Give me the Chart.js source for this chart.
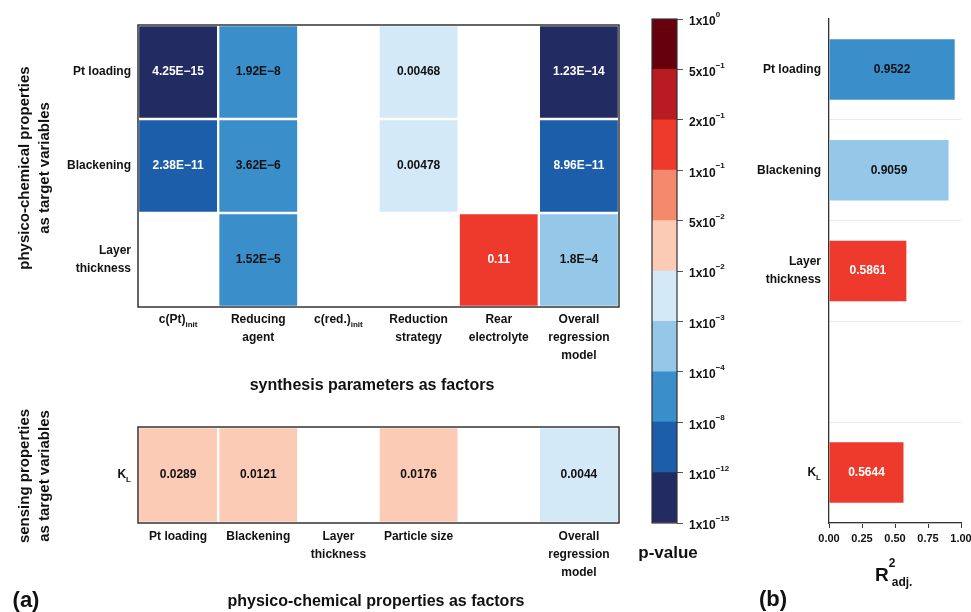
<!DOCTYPE html>
<html>
<head>
<meta charset="utf-8">
<script src="https://cdn.jsdelivr.net/npm/chart.js@4"></script>
<style>
  html, body { margin: 0; padding: 0; background: #fff; }
  #wrap { position: relative; width: 971px; height: 612px; overflow: hidden; background: #fff; }
  canvas { position: absolute; }
</style>
</head>
<body>
<div id="wrap">
  <canvas id="heatTop" width="640" height="395" style="left:0;top:0"></canvas>
  <canvas id="heatBottom" width="640" height="217" style="left:0;top:395px"></canvas>
  <canvas id="scaleBar" width="120" height="612" style="left:630px;top:0"></canvas>
  <canvas id="r2" width="231" height="612" style="left:740px;top:0"></canvas>
</div>
<script>
// Synthesis parameters (factors) vs. physico-chemical properties (targets): p-values
const synthFactors = ['c(Pt)_{init}', ['Reducing', 'agent'], 'c(red.)_{init}', ['Reduction', 'strategy'], ['Rear', 'electrolyte'], ['Overall', 'regression', 'model']];
const physTargets = ['Pt loading', 'Blackening', ['Layer', 'thickness']];
const pPtLoading = [4.25e-15, 1.92e-8, null, 0.00468, null, 1.23e-14];
const pBlackening = [2.38e-11, 3.62e-6, null, 0.00478, null, 8.96e-11];
const pLayerThickness = [null, 1.52e-5, null, null, 0.11, 1.8e-4];

// Physico-chemical properties (factors) vs. sensing property K_L: p-values
const physFactors = ['Pt loading', 'Blackening', ['Layer', 'thickness'], 'Particle size', '', ['Overall', 'regression', 'model']];
const sensTargets = ['K_{L}'];
const pKL = [0.0289, 0.0121, null, 0.0176, null, 0.0044];

// p-value colour classes
const pBreaks = [1e-15, 1e-12, 1e-8, 1e-4, 1e-3, 1e-2, 5e-2, 1e-1, 2e-1, 5e-1, 1];
const pBreakLabels = ['1x10^{−15}', '1x10^{−12}', '1x10^{−8}', '1x10^{−4}', '1x10^{−3}', '1x10^{−2}', '5x10^{−2}', '1x10^{−1}', '2x10^{−1}', '5x10^{−1}', '1x10^{0}'];
const pColors = ['#232c62', '#1c5ea9', '#3a8fcb', '#95c8e8', '#d4e9f7', '#fbcbb6', '#f4896c', '#ee3a2c', '#b81b22', '#67000d'];

// Adjusted R² of the regression models
const r2Targets = ['Pt loading', 'Blackening', ['Layer', 'thickness'], '', 'K_{L}'];
const r2Values = [0.9522, 0.9059, 0.5861, null, 0.5644];
const r2Colors = ['#3a8fcb', '#95c8e8', '#ee3a2c', '#ee3a2c', '#ee3a2c'];

const FAM = "'Liberation Sans', Arial, Helvetica, sans-serif";
Chart.defaults.font.family = FAM;
Chart.defaults.font.weight = 'bold';
Chart.defaults.font.size = 12;
Chart.defaults.color = '#111';
Chart.defaults.animation = false;
Chart.defaults.responsive = false;
Chart.defaults.events = [];
Chart.defaults.plugins.legend.display = false;
Chart.defaults.plugins.tooltip.enabled = false;

function pBin(p) {
  for (let i = 0; i < pColors.length; i++) if (p < pBreaks[i + 1]) return i;
  return pColors.length - 1;
}
function fmtP(p) {
  const s = p < 1e-3 ? p.toExponential().replace('e', 'E') : String(p);
  return s.replace(/-/g, '−');
}
const isRich = l => typeof l === 'string' && /[_^]\{/.test(l);
function parseRich(s) {
  const parts = [], re = /([_^])\{([^}]*)\}/g;
  let last = 0, m;
  while ((m = re.exec(s))) {
    if (m.index > last) parts.push({ t: s.slice(last, m.index) });
    parts.push({ t: m[2], sub: m[1] === '_', sup: m[1] === '^' });
    last = re.lastIndex;
  }
  if (last < s.length) parts.push({ t: s.slice(last) });
  return parts;
}
function drawRich(ctx, s, x, y, align, size) {
  const parts = parseRich(s);
  const small = Math.round(size * 0.68);
  const hasSup = parts.some(p => p.sup);
  const fontOf = p => `bold ${p.sub || p.sup ? small : size}px ${FAM}`;
  const widths = parts.map(p => { ctx.font = fontOf(p); return ctx.measureText(p.t).width; });
  const total = widths.reduce((a, b) => a + b, 0);
  let cx = align === 'right' ? x - total : align === 'center' ? x - total / 2 : x;
  const by = y + (hasSup ? 3 : 0);
  ctx.save();
  ctx.fillStyle = '#111';
  ctx.textAlign = 'left';
  ctx.textBaseline = 'middle';
  parts.forEach((p, i) => {
    ctx.font = fontOf(p);
    const dy = p.sub ? size * 0.4 : p.sup ? -size * 0.58 : 0;
    ctx.fillText(p.t, cx, by + dy);
    cx += widths[i];
  });
  ctx.restore();
}

// Tick labels with sub/superscripts, placed on the library's own scale positions
function richTicks(map) {
  return {
    id: 'richTicks',
    afterDraw(chart) {
      const ctx = chart.ctx;
      Object.keys(map).forEach(id => {
        const scale = chart.scales[id];
        const labels = map[id];
        const o = scale.options;
        const tl = o.grid.drawTicks ? o.grid.tickLength : 0;
        const pad = o.ticks.padding;
        const size = o.ticks.font.size || 12;
        const lh = size * (o.ticks.font.lineHeight || 1.2);
        scale.ticks.forEach(t => {
          const l = labels[t.value];
          if (!isRich(l)) return;
          const p = scale.getPixelForValue(t.value);
          if (scale.isHorizontal()) {
            drawRich(ctx, l, p, scale.top + tl + pad + lh / 2, 'center', size);
          } else if (o.position === 'right') {
            drawRich(ctx, l, scale.left + tl + pad, p, 'left', size);
          } else {
            drawRich(ctx, l, scale.right - tl - pad, p, 'right', size);
          }
        });
      });
    }
  };
}

function frame(width) {
  return {
    id: 'frame',
    afterDatasetsDraw(chart) {
      const a = chart.chartArea, ctx = chart.ctx;
      ctx.save();
      ctx.strokeStyle = '#333';
      ctx.lineWidth = width;
      ctx.strokeRect(a.left, a.top, a.right - a.left, a.bottom - a.top);
      ctx.restore();
    }
  };
}

function freeText(items) {
  return {
    id: 'freeText',
    afterDraw(chart) {
      const ctx = chart.ctx;
      items.forEach(it => {
        ctx.save();
        ctx.translate(it.x, it.y);
        if (it.rotate) ctx.rotate(it.rotate * Math.PI / 180);
        ctx.fillStyle = '#111';
        ctx.textBaseline = 'middle';
        if (it.stack) {
          ctx.textAlign = 'left';
          ctx.font = `bold ${it.size}px ${FAM}`;
          ctx.fillText(it.base, 0, 0);
          const w = ctx.measureText(it.base).width;
          ctx.font = `bold ${it.small}px ${FAM}`;
          ctx.fillText(it.sup, w, -12);
          ctx.fillText(it.sub, w + 3, 7);
        } else {
          ctx.font = `${it.weight || 'bold'} ${it.size}px ${FAM}`;
          ctx.textAlign = it.align || 'center';
          const lines = Array.isArray(it.text) ? it.text : [it.text];
          const gap = it.gap || it.size * 1.3;
          lines.forEach((l, k) => ctx.fillText(l, 0, (k - (lines.length - 1) / 2) * gap));
        }
        ctx.restore();
      });
    }
  };
}

// Writes each p-value into its cell
const cellText = {
  id: 'cellText',
  afterDatasetsDraw(chart) {
    const ctx = chart.ctx;
    ctx.save();
    ctx.font = `bold 12px ${FAM}`;
    ctx.textAlign = 'center';
    ctx.textBaseline = 'middle';
    chart.data.datasets.forEach((ds, di) => {
      const meta = chart.getDatasetMeta(di);
      ds.pValues.forEach((p, j) => {
        if (p == null) return;
        const c = meta.data[j].getCenterPoint();
        const b = pBin(p);
        ctx.fillStyle = (b <= 1 || b >= 7) ? '#fff' : '#111';
        ctx.fillText(fmtP(p), c.x, c.y);
      });
    });
    ctx.restore();
  }
};

const tickFont = { size: 12, weight: 'bold', lineHeight: 1.5 };

function heatmap(canvasId, factors, targets, rows, cfg) {
  return new Chart(document.getElementById(canvasId), {
    type: 'bar',
    data: {
      labels: factors,
      datasets: rows.map((vals, r) => ({
        data: vals.map(v => v == null ? null : [r - 0.5, r + 0.5]),
        pValues: vals,
        backgroundColor: vals.map(v => v == null ? 'rgba(0,0,0,0)' : pColors[pBin(v)]),
        borderColor: '#fff',
        borderWidth: 1.5,
        borderSkipped: false,
        grouped: false,
        barPercentage: 1,
        categoryPercentage: 1
      }))
    },
    options: {
      layout: { padding: { left: 0, right: cfg.right, top: cfg.top, bottom: 0 } },
      scales: {
        x: {
          grid: { display: false, drawTicks: false },
          border: { display: false },
          ticks: {
            font: tickFont, padding: cfg.xPad, maxRotation: 0, minRotation: 0, autoSkip: false,
            callback: (v, i) => isRich(factors[i]) ? '' : factors[i]
          },
          afterFit: s => { s.height = cfg.xHeight; }
        },
        y: {
          min: -0.5, max: targets.length - 0.5, reverse: true,
          grid: { display: false, drawTicks: false },
          border: { display: false },
          afterBuildTicks: s => { s.ticks = targets.map((_, i) => ({ value: i })); },
          ticks: { font: tickFont, padding: 7, callback: v => isRich(targets[v]) ? '' : targets[v] },
          afterFit: s => { s.width = 138; }
        }
      }
    },
    plugins: [frame(1.5), cellText, richTicks({ x: factors, y: targets }), freeText(cfg.texts)]
  });
}

heatmap('heatTop', synthFactors, physTargets, [pPtLoading, pBlackening, pLayerThickness], {
  top: 19, right: 21, xHeight: 88, xPad: 4,
  texts: [
    { text: ['physico-chemical properties', 'as target variables'], x: 35, y: 168, size: 15, rotate: -90, gap: 20 },
    { text: 'synthesis parameters as factors', x: 372, y: 386, size: 16 }
  ]
});

heatmap('heatBottom', physFactors, sensTargets, [pKL], {
  top: 32, right: 21, xHeight: 89, xPad: 5,
  texts: [
    { text: ['sensing properties', 'as target variables'], x: 35, y: 81, size: 15, rotate: -90, gap: 20 },
    { text: 'physico-chemical properties as factors', x: 376, y: 207, size: 16 },
    { text: '(a)', x: 26, y: 206, size: 22 }
  ]
});

// Colour key for the p-value classes
new Chart(document.getElementById('scaleBar'), {
  type: 'bar',
  data: {
    labels: [''],
    datasets: pColors.map((c, i) => ({
      data: [[i, i + 1]], backgroundColor: c, borderWidth: 0,
      grouped: false, barPercentage: 1, categoryPercentage: 1
    }))
  },
  options: {
    layout: { padding: { left: 22, top: 19, bottom: 89, right: 0 } },
    scales: {
      x: { display: false },
      y: {
        position: 'right', min: 0, max: pColors.length,
        afterBuildTicks: s => { s.ticks = pBreakLabels.map((_, i) => ({ value: i })); },
        grid: { drawOnChartArea: false, drawTicks: true, tickLength: 6, color: '#555', lineWidth: 1 },
        border: { display: false },
        ticks: { padding: 6, font: { size: 12, weight: 'bold' }, callback: () => '' },
        afterFit: s => { s.width = 73; }
      }
    }
  },
  plugins: [frame(1.2), richTicks({ y: pBreakLabels }), freeText([{ text: 'p-value', x: 38, y: 553, size: 17 }])]
});

// Value labels inside the R² bars
const barText = {
  id: 'barText',
  afterDatasetsDraw(chart) {
    const ctx = chart.ctx;
    const meta = chart.getDatasetMeta(0);
    ctx.save();
    ctx.font = `bold 12px ${FAM}`;
    ctx.textAlign = 'center';
    ctx.textBaseline = 'middle';
    r2Values.forEach((v, i) => {
      if (v == null) return;
      const c = meta.data[i].getCenterPoint();
      ctx.fillStyle = r2Colors[i] === '#ee3a2c' ? '#fff' : '#111';
      ctx.fillText(v.toFixed(4), c.x, c.y);
    });
    ctx.restore();
  }
};

new Chart(document.getElementById('r2'), {
  type: 'bar',
  data: {
    labels: r2Targets,
    datasets: [{ data: r2Values, backgroundColor: r2Colors, borderWidth: 0, barPercentage: 0.6, categoryPercentage: 1 }]
  },
  options: {
    indexAxis: 'y',
    layout: { padding: { left: 0, top: 19, right: 10, bottom: 0 } },
    scales: {
      x: {
        min: 0, max: 1,
        ticks: { stepSize: 0.25, padding: 4, maxRotation: 0, font: { size: 11, weight: 'bold' }, callback: v => v.toFixed(2) },
        grid: { drawOnChartArea: false, drawTicks: true, tickLength: 5, color: '#333' },
        border: { color: '#333', width: 1.3 },
        afterFit: s => { s.height = 89; s.paddingLeft = 0; s.paddingRight = 0; }
      },
      y: {
        grid: { offset: true, color: c => c.index === 0 ? 'rgba(0,0,0,0)' : '#ececec', drawTicks: false },
        border: { color: '#333', width: 1.3 },
        ticks: { padding: 8, font: tickFont, callback: (v, i) => isRich(r2Targets[i]) ? '' : r2Targets[i] },
        afterFit: s => { s.width = 89; }
      }
    }
  },
  plugins: [barText, richTicks({ y: r2Targets }), freeText([
    { text: '(b)', x: 33, y: 600, size: 22 },
    { stack: true, base: 'R', sup: '2', sub: 'adj.', x: 135, y: 576, size: 19, small: 12 }
  ])]
});
</script>
</body>
</html>
